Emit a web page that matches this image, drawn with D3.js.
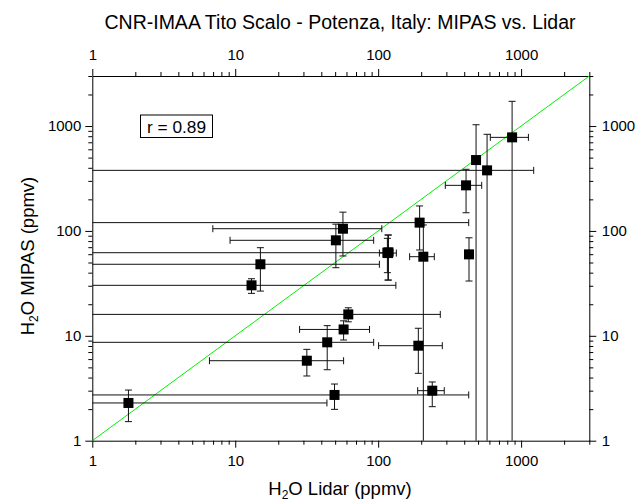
<!DOCTYPE html>
<html><head><meta charset="utf-8">
<script src="https://cdn.jsdelivr.net/npm/d3@7"></script>
<style>body{margin:0;background:#fff}svg{display:block}</style>
</head><body>
<svg id="c" width="638" height="502"></svg>
<script>
// Data (ppmv). 0.5 = error bar runs past the axis edge (clipped)
const lidar    = [865, 484, 578, 412, 195, 56.7, 50.6, 118, 117, 116, 207, 15.0, 13.0, 61.8, 57.3, 44, 31.7, 191, 432, 49.5, 1.79, 239];
const lidarLo  = [609, 455, 0.5, 295, 0.5, 6.97, 9.2, 110, 102, 0.5, 166, 0.5, 0.5, 0.5, 28.2, 0.5, 6.6, 100.7, 432, 0.5, 0.5, 189];
const lidarHi  = [1125, 515, 1225, 530, 430, 106, 93, 127, 134, 125, 247, 102, 133, 272, 87, 93, 57.3, 281, 432, 430, 43.8, 290];
const mipas    = [780, 474, 378, 272, 120, 105, 81.4, 62.5, 61.5, 62, 56.8, 48.1, 30.3, 16.0, 11.5, 8.67, 5.79, 8.05, 59.8, 2.73, 2.29, 3.0];
const mipasLo  = [0.5, 0.5, 0.5, 149, 65.8, 57.7, 44.6, 34, 34, 40, 0.5, 26.7, 25.4, 13.6, 9.12, 4.75, 4.14, 4.39, 33.3, 1.99, 1.52, 2.11];
const mipasHi  = [1720, 1029, 834, 387, 173, 151, 116, 91.4, 91.4, 85, 114, 69.2, 35, 18.5, 13.9, 12.5, 7.43, 11.8, 86, 3.47, 3.04, 3.63];
const axisDomain = [1, 3000];
const labelTicks = [1, 10, 100, 1000];
const corrText = "r = 0.89";
const title = "CNR-IMAA Tito Scalo - Potenza, Italy: MIPAS vs. Lidar";

const svg = d3.select("#c");
const L = 92.3, R = 589.3, T = 76, B = 440.7;
const x = d3.scaleLog().domain(axisDomain).range([L, R]);
const y = d3.scaleLog().domain(axisDomain).range([B, T]);
const font = "'Liberation Sans', Arial, Helvetica, sans-serif";
const allTicks = x.ticks().filter(d => d >= 1 && d <= 3000);
const isMajor = d => labelTicks.includes(d);

svg.append("defs").append("clipPath").attr("id", "clip")
  .append("rect").attr("x", L).attr("y", T).attr("width", R - L).attr("height", B - T);

function styleAxis(g, orient) {
  g.select(".domain").attr("stroke", "#000").attr("stroke-width", 1);
  g.selectAll(".tick line").attr("stroke", "#000").attr("stroke-width", 1);
  g.selectAll(".tick").filter(d => isMajor(d)).select("line").each(function () {
    const l = d3.select(this);
    if (orient === "b") l.attr("y2", 7);
    if (orient === "t") l.attr("y2", -7);
    if (orient === "l") l.attr("x2", -7);
    if (orient === "r") l.attr("x2", 7);
  });
  g.selectAll(".tick text").attr("font-family", font).attr("font-size", 15).attr("fill", "#000");
}
const fmt = d => isMajor(d) ? String(d) : "";

const gb = svg.append("g").attr("transform", `translate(0,${B})`)
  .call(d3.axisBottom(x).tickValues(allTicks).tickSize(4).tickSizeOuter(0).tickFormat(fmt));
styleAxis(gb, "b"); gb.selectAll(".tick text").attr("y", 15);
const gt = svg.append("g").attr("transform", `translate(0,${T})`)
  .call(d3.axisTop(x).tickValues(allTicks).tickSize(4).tickSizeOuter(0).tickFormat(fmt));
styleAxis(gt, "t"); gt.selectAll(".tick text").attr("y", -15.6);
const gl = svg.append("g").attr("transform", `translate(${L},0)`)
  .call(d3.axisLeft(y).tickValues(allTicks).tickSize(4).tickSizeOuter(0).tickFormat(fmt));
styleAxis(gl, "l"); gl.selectAll(".tick text").attr("x", -11);
const gr = svg.append("g").attr("transform", `translate(${R},0)`)
  .call(d3.axisRight(y).tickValues(allTicks).tickSize(4).tickSizeOuter(0).tickFormat(fmt));
styleAxis(gr, "r"); gr.selectAll(".tick text").attr("x", 12.5);

// 1:1 line
svg.append("line").attr("clip-path", "url(#clip)")
  .attr("x1", x(axisDomain[0])).attr("y1", y(axisDomain[0]))
  .attr("x2", x(axisDomain[1])).attr("y2", y(axisDomain[1]))
  .attr("stroke", "#00f000").attr("stroke-width", 1);

// error bars
const eg = svg.append("g").attr("clip-path", "url(#clip)").attr("stroke", "#111").attr("stroke-width", 1);
const cap = 3.5;
lidar.forEach((lv, i) => {
  const cx = x(lv), cy = y(mipas[i]);
  if (lidarLo[i] !== lidarHi[i]) {
    eg.append("line").attr("x1", x(lidarLo[i])).attr("x2", x(lidarHi[i])).attr("y1", cy).attr("y2", cy);
    [lidarLo[i], lidarHi[i]].forEach(v => eg.append("line").attr("x1", x(v)).attr("x2", x(v)).attr("y1", cy - cap).attr("y2", cy + cap));
  }
  eg.append("line").attr("x1", cx).attr("x2", cx).attr("y1", y(mipasLo[i])).attr("y2", y(mipasHi[i]));
  [mipasLo[i], mipasHi[i]].forEach(v => eg.append("line").attr("y1", y(v)).attr("y2", y(v)).attr("x1", cx - cap).attr("x2", cx + cap));
});

// markers
svg.append("g").selectAll("rect").data(lidar).join("rect")
  .attr("x", (d) => x(d) - 5).attr("y", (d, i) => y(mipas[i]) - 5)
  .attr("width", 10).attr("height", 10).attr("fill", "#000");

// correlation box
const bx = svg.append("g");
bx.append("rect").attr("x", 140.5).attr("y", 115).attr("width", 72).attr("height", 22.5)
  .attr("fill", "#fff").attr("stroke", "#000").attr("stroke-width", 1);
bx.append("text").attr("x", 176.5).attr("y", 133).attr("text-anchor", "middle")
  .attr("font-family", font).attr("font-size", 17.3).text(corrText);

// title
svg.append("text").attr("x", 340).attr("y", 29.3).attr("text-anchor", "middle")
  .attr("font-family", font).attr("font-size", 19.5).text(title);

// axis titles
const xt = svg.append("text").attr("x", 340).attr("y", 495).attr("text-anchor", "middle")
  .attr("font-family", font).attr("font-size", 18.5);
xt.append("tspan").text("H");
xt.append("tspan").attr("font-size", 12).attr("dy", 4).text("2");
xt.append("tspan").attr("dy", -4).text("O Lidar (ppmv)");

const yt = svg.append("text").attr("transform", "translate(34,256) rotate(-90)").attr("text-anchor", "middle")
  .attr("font-family", font).attr("font-size", 18.5);
yt.append("tspan").text("H");
yt.append("tspan").attr("font-size", 12).attr("dy", 4).text("2");
yt.append("tspan").attr("dy", -4).text("O MIPAS (ppmv)");
</script>
</body></html>
